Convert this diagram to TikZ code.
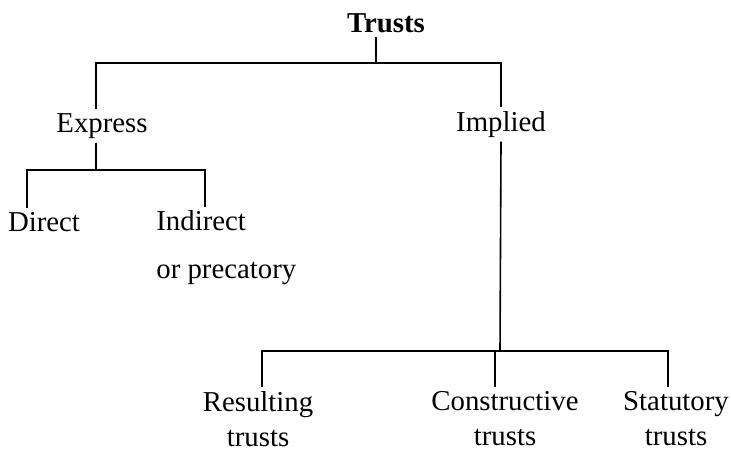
\documentclass[tikz,border=0pt]{standalone}
\usepackage{fontspec}
\setmainfont{Liberation Serif}
\tikzset{%
  treenode/.style = {inner sep=2pt, font=\fontsize{14.4}{17.5}\selectfont},%
  root/.style     = {treenode, font=\fontsize{14.4}{17.5}\selectfont\bfseries},%
  leaf/.style     = {treenode, align=center},%
  wire/.style     = {draw, line width=0.8pt}%
}
\begin{document}
\begin{tikzpicture}[x=0.5pt,y=-0.5pt]
	\useasboundingbox (0,0) rectangle (731,451);
	% labels
	\node [root] (trusts) at (386,23) {Trusts};
	\node [treenode, anchor=base] (express) at (102,132) {Express};
	\node [treenode, anchor=base] (implied) at (501,131) {Implied};
	\node [treenode, anchor=base] (direct) at (44,231) {Direct};
	\node [treenode, align=left, anchor=west] (indirect) at (152,248) {Indirect\\[6.5pt]or precatory};
	\node [leaf] (resulting) at (258,419) {Resulting\\trusts};
	\node [leaf] (constructive) at (505,419) {Constructive\\trusts};
	\node [leaf] (statutory) at (676,419) {Statutory\\trusts};
	% joints
	\coordinate (top) at (376,63);
	\coordinate (left) at (96,170);
	\coordinate (low) at (500,351);
	\coordinate (dleg) at (27,170);
	\coordinate (ileg) at (205,170);
	\coordinate (rleg) at (262,351);
	\coordinate (cleg) at (495,351);
	\coordinate (sleg) at (668,351);
	% lines
	\draw [wire] (trusts.south -| top) -- (top);
	\draw [wire] (express.north -| left) |- (top) -| (implied.north);
	\draw [wire] (express.south -| left) -- (left);
	\draw [wire] (direct.north -| dleg) |- (left) -| (indirect.north -| ileg);
	\draw [wire] (implied.south) -- (low);
	\draw [wire] (resulting.north -| rleg) |- (low) -| (statutory.north -| sleg);
	\draw [wire] (constructive.north -| cleg) -- (cleg);
\end{tikzpicture}
\end{document}
